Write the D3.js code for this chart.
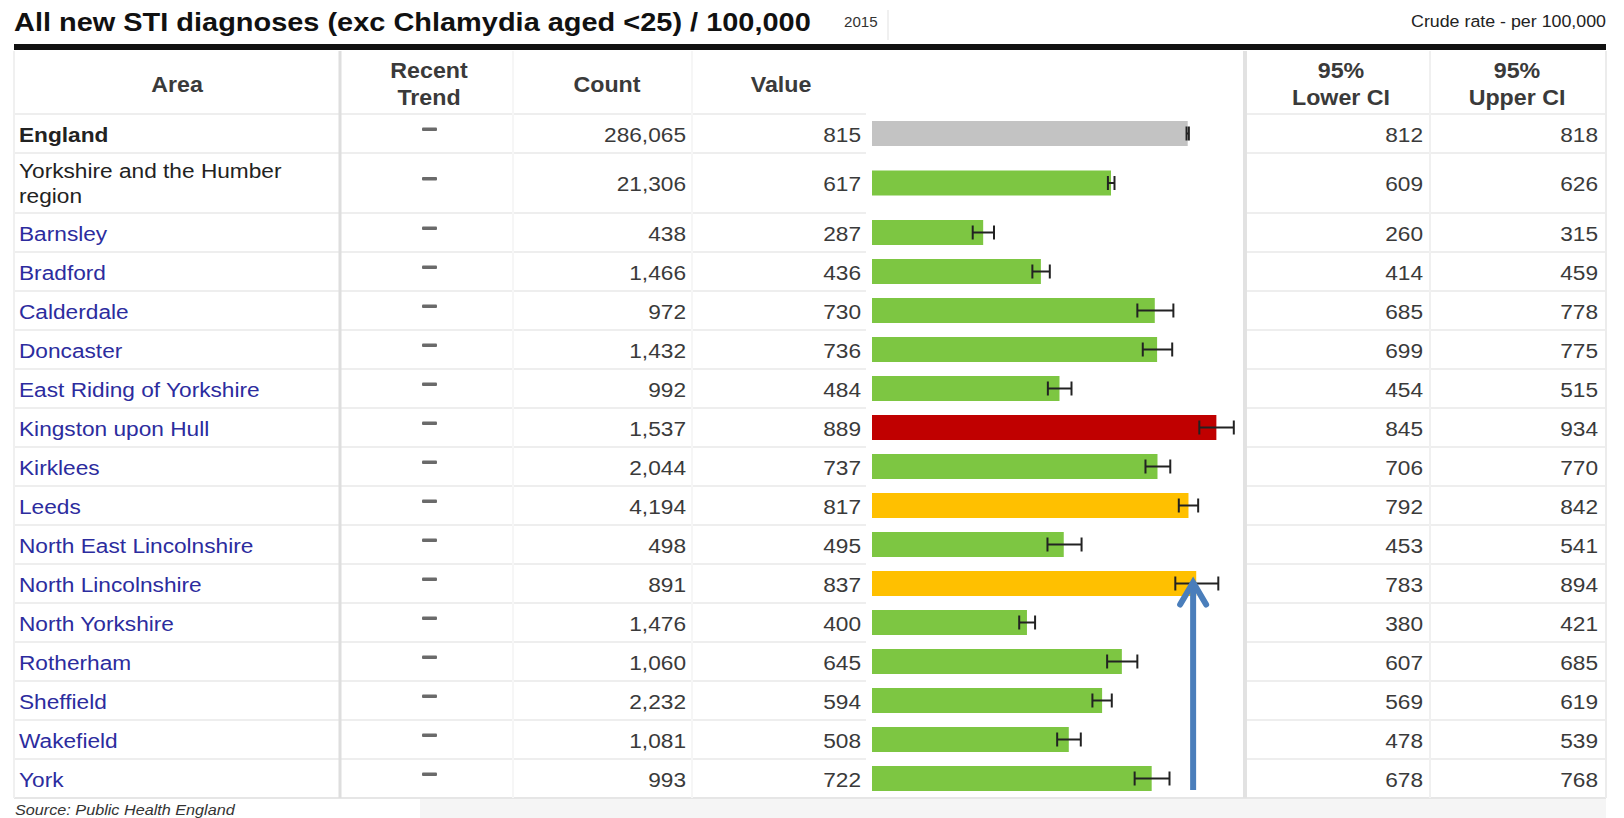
<!DOCTYPE html>
<html>
<head>
<meta charset="utf-8">
<script src="https://cdn.jsdelivr.net/npm/d3@7/dist/d3.min.js"></script>
<style>
  html, body { margin: 0; padding: 0; background: #ffffff; }
  svg { display: block; font-family: "Liberation Sans", Arial, sans-serif; }
</style>
</head>
<body>
<svg id="chart" width="1624" height="818"></svg>
<script>
// ---------------- DATA ----------------
const areas = ["England", "Yorkshire and the Humber region", "Barnsley", "Bradford", "Calderdale",
  "Doncaster", "East Riding of Yorkshire", "Kingston upon Hull", "Kirklees", "Leeds",
  "North East Lincolnshire", "North Lincolnshire", "North Yorkshire", "Rotherham",
  "Sheffield", "Wakefield", "York"];
const areaLines = [["England"], ["Yorkshire and the Humber", "region"], ["Barnsley"], ["Bradford"], ["Calderdale"],
  ["Doncaster"], ["East Riding of Yorkshire"], ["Kingston upon Hull"], ["Kirklees"], ["Leeds"],
  ["North East Lincolnshire"], ["North Lincolnshire"], ["North Yorkshire"], ["Rotherham"],
  ["Sheffield"], ["Wakefield"], ["York"]];
const areaKind = ["england", "region", "la", "la", "la", "la", "la", "la", "la", "la", "la", "la", "la", "la", "la", "la", "la"];
const counts = [286065, 21306, 438, 1466, 972, 1432, 992, 1537, 2044, 4194, 498, 891, 1476, 1060, 2232, 1081, 993];
const values = [815, 617, 287, 436, 730, 736, 484, 889, 737, 817, 495, 837, 400, 645, 594, 508, 722];
const lowerCI = [812, 609, 260, 414, 685, 699, 454, 845, 706, 792, 453, 783, 380, 607, 569, 478, 678];
const upperCI = [818, 626, 315, 459, 778, 775, 515, 934, 770, 842, 541, 894, 421, 685, 619, 539, 768];
const significance = ["benchmark", "better", "better", "better", "better", "better", "better", "worse", "better",
  "similar", "better", "similar", "better", "better", "better", "better", "better"];
const title = "All new STI diagnoses (exc Chlamydia aged <25) / 100,000";
const period = "2015";
const unitLabel = "Crude rate - per 100,000";
const source = "Source: Public Health England";
const headers = [
  { key: "area", lines: ["Area"] },
  { key: "trend", lines: ["Recent", "Trend"] },
  { key: "count", lines: ["Count"] },
  { key: "value", lines: ["Value"] },
  { key: "lower", lines: ["95%", "Lower CI"] },
  { key: "upper", lines: ["95%", "Upper CI"] }
];
const axisDomain = [0, 950];
const arrowValue = 829;            // annotation arrow position (value units)
const arrowTargetRow = "North Lincolnshire";

// ---------------- STYLE / LAYOUT ----------------
const colorMap = { benchmark: "#c3c3c3", better: "#7dc642", similar: "#ffc000", worse: "#c00000" };
const K = 1.08;  // horizontal text stretch of the reference
const FONT = '"Liberation Sans", Arial, sans-serif';
const svg = d3.select("#chart");

const tableLeft = 14, tableRight = 1606;
const headerTop = 51, headerBottom = 114;
const rowH = areaLines.map(l => l.length > 1 ? 60 : 39);
const rowTop = [];
rowH.reduce((acc, h, i) => { rowTop[i] = acc; return acc + h; }, headerBottom);
const tableBottom = rowTop[rowTop.length - 1] + rowH[rowH.length - 1];
const rowCenter = rowTop.map((t, i) => t + rowH[i] / 2);

const cols = {
  area: { x0: 14, x1: 340, hc: 177 },
  trend: { x0: 340, x1: 513, hc: 429 },
  count: { x0: 513, x1: 692, hc: 607, right: 686 },
  value: { x0: 692, x1: 866, hc: 781, right: 861 },
  bar: { x0: 866, x1: 1245 },
  lower: { x0: 1245, x1: 1430, hc: 1341, right: 1423 },
  upper: { x0: 1430, x1: 1606, hc: 1517, right: 1598 }
};

const x = d3.scaleLinear().domain(axisDomain).range([872, 1240]);

function addText(parent, px, py, str, o = {}) {
  const t = parent.append("text")
    .attr("transform", `translate(${px},${py}) scale(${o.k || K},1)`)
    .attr("text-anchor", o.anchor || "start")
    .attr("font-family", FONT)
    .attr("font-size", o.size || 21)
    .attr("font-weight", o.weight || "normal")
    .attr("font-style", o.style || "normal")
    .attr("fill", o.fill || "#333")
    .text(str);
  return t;
}

// ---------------- BACKGROUNDS & GRID ----------------
const grid = svg.append("g");
grid.append("rect").attr("x", tableLeft).attr("y", headerTop).attr("width", tableRight - tableLeft)
  .attr("height", tableBottom - headerTop).attr("fill", "#ffffff");
grid.append("rect").attr("x", 420).attr("y", tableBottom + 1).attr("width", tableRight - 420)
  .attr("height", 818 - tableBottom).attr("fill", "#f5f5f5");

// horizontal separators (not through the bar column)
const sepYs = [headerBottom].concat(rowTop.slice(1));
[[tableLeft, cols.bar.x0], [cols.lower.x0, tableRight]].forEach(([a, b]) => {
  grid.selectAll(null).data(sepYs).enter().append("line")
    .attr("x1", a).attr("x2", b).attr("y1", d => d).attr("y2", d => d)
    .attr("stroke", "#eeeeee").attr("stroke-width", 2);
});
grid.append("line").attr("x1", tableLeft).attr("x2", tableRight).attr("y1", tableBottom).attr("y2", tableBottom)
  .attr("stroke", "#e6e6e6").attr("stroke-width", 2);

// vertical separators
const vlines = [
  { x: cols.area.x0, c: "#f0f0f0", w: 2 }, { x: cols.trend.x0, c: "#dedede", w: 3 },
  { x: cols.count.x0, c: "#f6f6f6", w: 2 }, { x: cols.value.x0, c: "#f6f6f6", w: 2 },
  { x: cols.lower.x0, c: "#e2e2e2", w: 4 }, { x: cols.upper.x0, c: "#f0f0f0", w: 2 },
  { x: cols.upper.x1, c: "#ececec", w: 2 }
];
grid.selectAll(null).data(vlines).enter().append("line")
  .attr("x1", d => d.x).attr("x2", d => d.x).attr("y1", headerTop).attr("y2", tableBottom)
  .attr("stroke", d => d.c).attr("stroke-width", d => d.w);

// ---------------- TITLE ----------------
const tt = addText(svg, 14, 31, title, { size: 26, weight: "bold", fill: "#111", k: 1 });
const tl = tt.node().getComputedTextLength();
tt.attr("transform", `translate(14,31) scale(${797 / tl},1)`);
addText(svg, 844, 27, period, { size: 14, fill: "#333" });
svg.append("line").attr("x1", 888).attr("x2", 888).attr("y1", 10).attr("y2", 40)
  .attr("stroke", "#f0f0f0").attr("stroke-width", 2);
addText(svg, tableRight, 27, unitLabel, { size: 16.5, anchor: "end", fill: "#222" });
svg.append("rect").attr("x", tableLeft).attr("y", 44).attr("width", tableRight - tableLeft).attr("height", 6)
  .attr("fill", "#111");

// ---------------- HEADER ----------------
const hg = svg.append("g");
headers.forEach(h => {
  const c = cols[h.key];
  const base = h.lines.length > 1 ? [78, 105] : [92];
  h.lines.forEach((ln, i) => addText(hg, c.hc, base[i], ln, { size: 21.5, weight: "bold", anchor: "middle", fill: "#3a3a3a" }));
});

// ---------------- ROWS ----------------
const rows = svg.append("g");
const fmt = d3.format(",");
areas.forEach((a, i) => {
  const cy = rowCenter[i];
  const kind = areaKind[i];
  const lines = areaLines[i];
  const fill = kind === "la" ? "#2c2c9e" : "#222";
  const weight = kind === "england" ? "bold" : "normal";
  if (lines.length === 1) {
    addText(rows, 19, cy + 8, lines[0], { fill, weight });
  } else {
    lines.forEach((ln, j) => addText(rows, 19, cy - 5 + j * 25, ln, { fill, weight }));
  }
  // recent trend dash
  rows.append("rect").attr("x", 422).attr("y", cy - 6).attr("width", 15).attr("height", 3.5)
    .attr("fill", "#6a6a6a").attr("rx", 1);
  addText(rows, cols.count.right, cy + 8, fmt(counts[i]), { anchor: "end", fill: "#3a3a3a" });
  addText(rows, cols.value.right, cy + 8, fmt(values[i]), { anchor: "end", fill: "#3a3a3a" });
  addText(rows, cols.lower.right, cy + 8, fmt(lowerCI[i]), { anchor: "end", fill: "#3a3a3a" });
  addText(rows, cols.upper.right, cy + 8, fmt(upperCI[i]), { anchor: "end", fill: "#3a3a3a" });
});

// ---------------- BARS ----------------
const bars = svg.append("g");
const data = areas.map((a, i) => ({ a, v: values[i], lo: lowerCI[i], hi: upperCI[i], s: significance[i], cy: rowCenter[i] }));
bars.selectAll("rect.bar").data(data).enter().append("rect").attr("class", "bar")
  .attr("x", x(0)).attr("y", d => d.cy - 12.5)
  .attr("width", d => x(d.v) - x(0)).attr("height", 25)
  .attr("fill", d => colorMap[d.s]);
bars.selectAll("line.err").data(data).enter().append("line").attr("class", "err")
  .attr("x1", d => x(d.lo)).attr("x2", d => x(d.hi)).attr("y1", d => d.cy).attr("y2", d => d.cy)
  .attr("stroke", "#222").attr("stroke-width", 2);
["lo", "hi"].forEach(k => {
  bars.selectAll(null).data(data).enter().append("line")
    .attr("x1", d => x(d[k])).attr("x2", d => x(d[k]))
    .attr("y1", d => d.cy - 7).attr("y2", d => d.cy + 7)
    .attr("stroke", "#222").attr("stroke-width", 2);
});

// ---------------- ARROW ANNOTATION ----------------
const ti = areas.indexOf(arrowTargetRow);
const ax = x(arrowValue), tipY = rowCenter[ti] - 3;
const ag = svg.append("g").attr("stroke", "#4a7ebb").attr("fill", "none").attr("stroke-width", 6);
ag.append("line").attr("x1", ax).attr("x2", ax).attr("y1", tipY + 2).attr("y2", tableBottom - 8);
ag.append("path").attr("d", d3.line()([[ax - 13, tipY + 24], [ax, tipY + 2], [ax + 13, tipY + 24]]))
  .attr("stroke-linecap", "round").attr("stroke-linejoin", "miter");

// ---------------- SOURCE ----------------
addText(svg, 15, 815, source, { size: 15, style: "italic", fill: "#333" });
</script>
</body>
</html>
